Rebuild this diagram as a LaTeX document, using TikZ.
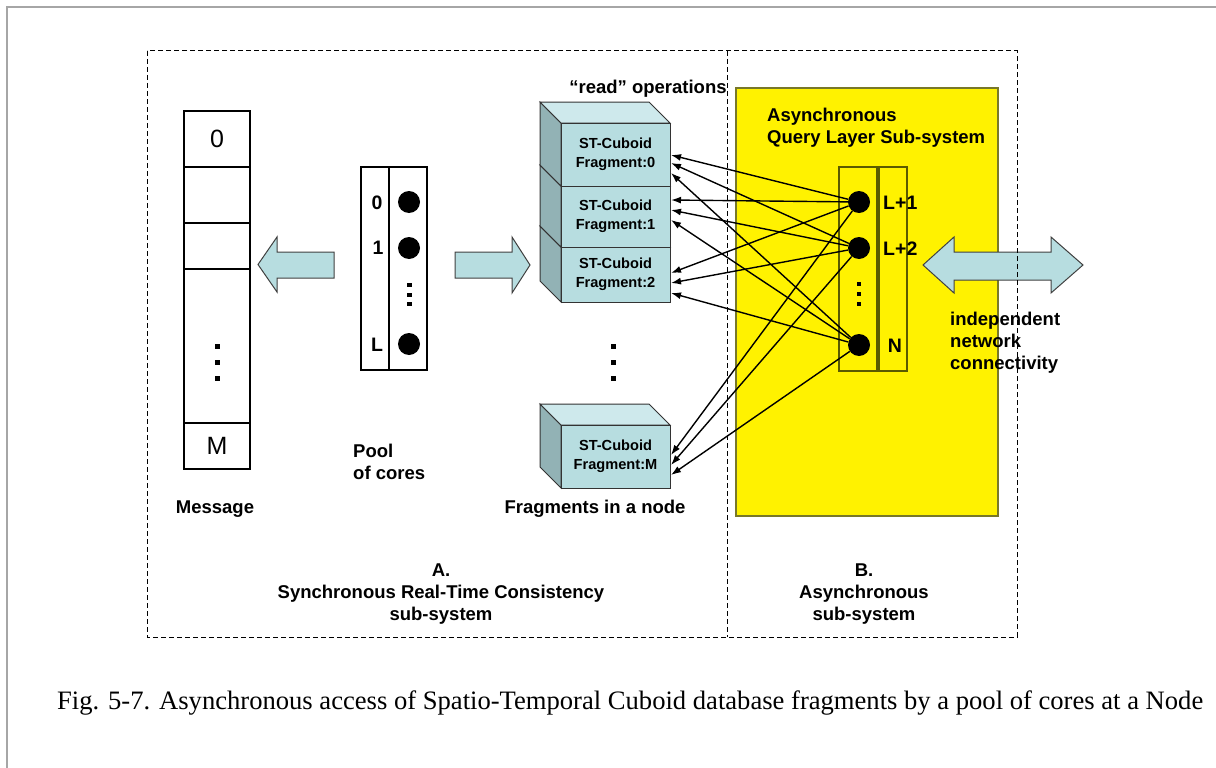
\documentclass[tikz,border=0pt]{standalone}
\usepackage{fontspec}
\setmainfont{Liberation Sans}
\newfontfamily\capfont{Liberation Serif}
\usetikzlibrary{arrows.meta}
\definecolor{cubefront}{RGB}{183,221,224}
\definecolor{cubetop}{RGB}{206,233,236}
\definecolor{cubeside}{RGB}{146,178,181}
\definecolor{framegray}{RGB}{166,166,166}
\definecolor{yborder}{RGB}{120,120,40}
\definecolor{coreborder}{RGB}{90,90,0}
\newcommand\fragcube[2]{%
  \filldraw[face, fill=cubeside] (561,#1) -- (540,{#1-21}) -- (540,{#2-21}) -- (561,#2) -- cycle;
  \filldraw[face, fill=cubetop] (561,#1) -- (540,{#1-21}) -- (649,{#1-21}) -- (670,#1) -- cycle;
}
\begin{document}
\begin{tikzpicture}[x=1pt,y=-1pt,
  lbl/.style={font=\bfseries\fontsize{18.5}{22}\selectfont, inner sep=0},
  fraglbl/.style={font=\bfseries\fontsize{14.6}{19}\selectfont, align=center, inner sep=0},
  dashbox/.style={draw, dash pattern=on 5pt off 3pt, line width=1pt},
  core/.style={circle, fill=black, minimum size=22pt, inner sep=0},
  link/.style={-{Latex[length=10pt,width=7pt]}, line width=1.4pt},
  blockarrow/.style={fill=cubefront, draw=black!75, line width=1pt},
  face/.style={draw=black!80, line width=1pt},
  frontface/.style={face, fill=cubefront, minimum width=109pt, fraglbl},
  cell/.style={draw, line width=1.1pt, minimum width=66pt, inner sep=0, font=\fontsize{25}{25}\selectfont},
  corelbl/.style={font=\bfseries\fontsize{19.5}{20}\selectfont, inner sep=0}
]
\useasboundingbox (0,0) rectangle (1216,768);
% page frame
\draw[framegray, line width=2pt] (7,768) -- (7,7) -- (1216,7);

% yellow async region
\filldraw[fill=yellow, draw=yborder, line width=1.2pt] (736,88) rectangle (998,516);

% message column
\node[cell, minimum height=56pt] (m0) at (217,139) {0};
\node[cell, minimum height=56pt] (m1) at (217,195) {};
\node[cell, minimum height=46pt] (m2) at (217,246) {};
\node[cell, minimum height=154pt] (m3) at (217,346) {};
\node[cell, minimum height=46pt] (mM) at (217,446) {M};
\foreach \y in {346,362,378} \fill (214.5,{\y-2.5}) rectangle ++(5,5);

% pool of cores
\draw[line width=1.1pt] (361,167) rectangle (389,370);
\draw[line width=1.1pt] (389,167) rectangle (427,370);
\node[core] (c0) at (409,202) {};
\node[core] (c1) at (409,248) {};
\node[core] (cL) at (409,344) {};
\node[corelbl] (l0) at (377,203) {0};
\node[corelbl] (l1) at (378,248) {1};
\node[corelbl] (lL) at (377,345) {L};
\foreach \y in {285,295,304} \fill (407,{\y-2.4}) rectangle ++(4.8,4.8);

% block arrows
\filldraw[blockarrow] (334,252) -- (277,252) -- (277,237) -- (258,264.5) -- (277,292) -- (277,278) -- (334,278) -- cycle;
\filldraw[blockarrow] (455,252) -- (512,252) -- (512,237) -- (530,265) -- (512,293) -- (512,278) -- (455,278) -- cycle;
\filldraw[blockarrow] (923,265) -- (954,237) -- (954,252) -- (1051,252) -- (1051,237) -- (1083,265) -- (1051,293) -- (1051,280) -- (954,280) -- (954,293) -- cycle;

% fragment stack
\fragcube{247}{302}
\node[frontface, minimum height=55pt] (f2) at (615.5,274.5) {ST-Cuboid\\Fragment:2};
\fragcube{186}{247}
\node[frontface, minimum height=61pt] (f1) at (615.5,216.5) {ST-Cuboid\\Fragment:1};
\fragcube{123}{186}
\node[frontface, minimum height=63pt] (f0) at (615.5,154.5) {ST-Cuboid\\Fragment:0};
\fragcube{425}{488}
\node[frontface, minimum height=63pt] (fM) at (615.5,456.5) {ST-Cuboid\\Fragment:M};
\foreach \y in {346,362,378} \fill (610.5,{\y-2.5}) rectangle ++(5,5);

% async cores
\draw[coreborder, line width=1.2pt] (839,167) rectangle (877,371);
\draw[coreborder, line width=1.2pt] (879,167) rectangle (907,371);
\node[core] (r1) at (859,202) {};
\node[core] (r2) at (859,248) {};
\node[core] (rN) at (859,345) {};
\node[corelbl, anchor=west] (lr1) at (883,203) {L+1};
\node[corelbl, anchor=west] (lr2) at (883,249) {L+2};
\node[corelbl] (lrN) at (895,346) {N};
\foreach \y in {284,294,304} \fill (856.6,{\y-2.4}) rectangle ++(4.8,4.8);

% read links
\foreach \t/\y in {a/155,b/163,c/173,d/200,e/210,f/220,g/273,h/283,i/293,j/455,k/465,l/475}
  \coordinate (in\t) at (671,\y);
\foreach \s/\t in {r1/a,r2/b,rN/c,r1/d,r2/e,rN/f,r1/g,r2/h,rN/i,r1/j,r2/k,rN/l}
  \draw[link] (\s) -- (in\t);

% labels
\node[lbl, anchor=base] (tread) at (648,93) {“read” operations};
\node[lbl, anchor=base] (tmsg) at (215,513) {Message};
\node[lbl, anchor=west, align=left] (tpool) at (353,462) {Pool\\of cores};
\node[lbl, anchor=base] (tfrag) at (595,513) {Fragments in a node};
\node[lbl, anchor=west, align=left] (tasync) at (767,128) {Asynchronous\\Query Layer Sub-system};
\node[lbl, anchor=west, align=left] (tnet) at (950,343) {independent\\network\\connectivity};
\node[lbl, align=center] (tA) at (441,594) {A.\\Synchronous Real-Time Consistency\\sub-system};
\node[lbl, align=center] (tB) at (864,594) {B.\\Asynchronous\\sub-system};

% dashed subsystem boxes
\draw[dashbox] (147,51) rectangle (1017,637);
\draw[dashbox] (727,51) -- (727,637);

% caption
\node[anchor=base west, inner sep=0, font=\capfont\fontsize{26.6}{30}\selectfont] (cap) at (57,709) {Fig. 5-7. Asynchronous access of Spatio-Temporal Cuboid database fragments by a pool of cores at a Node};
\end{tikzpicture}
\end{document}
